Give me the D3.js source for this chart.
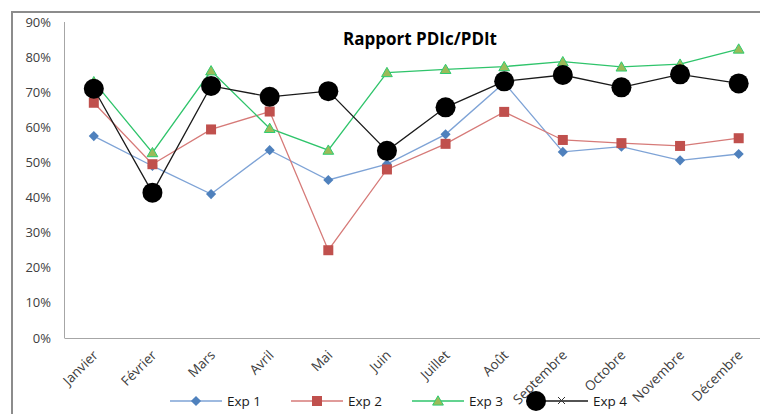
<!DOCTYPE html>
<html>
<head>
<meta charset="utf-8">
<script src="https://cdn.jsdelivr.net/npm/d3@7"></script>
<style>
  body { margin: 0; background: #fff; }
  svg { display: block; font-family: "Open Sans", "Liberation Sans", sans-serif; }
</style>
</head>
<body>
<svg id="chart" width="760" height="414"></svg>
<script>
var months = ["Janvier", "Février", "Mars", "Avril", "Mai", "Juin", "Juillet", "Août", "Septembre", "Octobre", "Novembre", "Décembre"];
var exp1 = [0.575, 0.49, 0.41, 0.535, 0.45, 0.495, 0.58, 0.727, 0.53, 0.545, 0.506, 0.524];
var exp2 = [0.67, 0.495, 0.594, 0.645, 0.25, 0.48, 0.553, 0.644, 0.564, 0.555, 0.547, 0.569];
var exp3 = [0.73, 0.528, 0.761, 0.597, 0.535, 0.756, 0.765, 0.773, 0.787, 0.772, 0.78, 0.823];
var exp4 = [0.71, 0.414, 0.718, 0.687, 0.703, 0.533, 0.657, 0.731, 0.749, 0.714, 0.751, 0.725];
var yTicks = [0, 0.1, 0.2, 0.3, 0.4, 0.5, 0.6, 0.7, 0.8, 0.9];

var svg = d3.select("#chart");

// outer frame of the chart
svg.append("path")
  .attr("d", "M12,414V12H760")
  .attr("fill", "none")
  .attr("stroke", "#8c8c8c")
  .attr("stroke-width", 2);

var x = d3.scaleBand().domain(months).range([64.5, 768]);
var y = d3.scaleLinear().domain([0, 0.9]).range([338, 22]);
var cx = function(d, i) { return x(months[i]) + x.bandwidth() / 2; };

// axes
svg.append("line").attr("x1", 64.5).attr("x2", 64.5).attr("y1", 22).attr("y2", 338)
  .attr("stroke", "#a6a6a6").attr("stroke-width", 1);
svg.append("line").attr("x1", 64.5).attr("x2", 760).attr("y1", 338.5).attr("y2", 338.5)
  .attr("stroke", "#a6a6a6").attr("stroke-width", 1);

svg.selectAll(".ytick").data(yTicks).enter().append("text")
  .attr("x", 51).attr("y", function(d) { return y(d); })
  .attr("dy", "0.35em")
  .attr("text-anchor", "end")
  .attr("font-size", 13)
  .attr("fill", "#404040")
  .text(function(d) { return d3.format(".0%")(d); });

svg.selectAll(".xtick").data(months).enter().append("text")
  .attr("transform", function(d) { return "translate(" + (x(d) + x.bandwidth() / 2 + 5) + ",356) rotate(-45)"; })
  .attr("text-anchor", "end")
  .attr("font-size", 13.5)
  .attr("fill", "#404040")
  .text(function(d) { return d; });

svg.append("text")
  .attr("x", 420).attr("y", 45)
  .attr("text-anchor", "middle")
  .attr("font-size", 17)
  .attr("font-weight", "bold")
  .attr("fill", "#000")
  .text("Rapport PDIc/PDIt");

var line = d3.line().x(cx).y(function(d) { return y(d); });

function marker(g, type, px, py) {
  if (type === "diamond") {
    g.append("rect").attr("x", -3.6).attr("y", -3.6).attr("width", 7.2).attr("height", 7.2)
      .attr("transform", "translate(" + px + "," + py + ") rotate(45)")
      .attr("fill", "#4f81bd");
  } else if (type === "square") {
    g.append("rect").attr("x", px - 5).attr("y", py - 5).attr("width", 10).attr("height", 10)
      .attr("fill", "#c0504d");
  } else if (type === "triangle") {
    g.append("path").attr("d", d3.symbol(d3.symbolTriangle, 50)())
      .attr("transform", "translate(" + px + "," + (py + 1) + ")")
      .attr("fill", "#9bbb59").attr("stroke", "#2ecc71").attr("stroke-width", 1);
  } else {
    g.append("circle").attr("cx", px).attr("cy", py).attr("r", 10).attr("fill", "#000");
  }
}

var series = [
  { name: "Exp 1", values: exp1, color: "#7ea3d6", type: "diamond" },
  { name: "Exp 2", values: exp2, color: "#d67a78", type: "square" },
  { name: "Exp 3", values: exp3, color: "#2fc46b", type: "triangle" },
  { name: "Exp 4", values: exp4, color: "#1a1a1a", type: "circle" }
];

series.forEach(function(s) {
  var g = svg.append("g");
  g.append("path").datum(s.values)
    .attr("d", line)
    .attr("fill", "none")
    .attr("stroke", s.color)
    .attr("stroke-width", 1.3);
  s.values.forEach(function(v, i) { marker(g, s.type, cx(v, i), y(v)); });
});

// legend
var legendX = [170, 291, 412, 536];
series.forEach(function(s, i) {
  var g = svg.append("g");
  var lx = legendX[i], ly = 401;
  g.append("line").attr("x1", lx).attr("x2", lx + 52).attr("y1", ly).attr("y2", ly)
    .attr("stroke", s.color).attr("stroke-width", 1.3);
  if (s.type === "circle") {
    marker(g, s.type, lx, ly);
    g.append("path").attr("d", "M" + (lx + 22) + "," + (ly - 4) + "l7,7M" + (lx + 29) + "," + (ly - 4) + "l-7,7")
      .attr("stroke", "#333").attr("stroke-width", 1);
  } else {
    marker(g, s.type, lx + 26, ly);
  }
  g.append("text").attr("x", lx + 57).attr("y", ly).attr("dy", "0.35em")
    .attr("font-size", 13.5).attr("fill", "#1a1a1a").text(s.name);
});
</script>
</body>
</html>
